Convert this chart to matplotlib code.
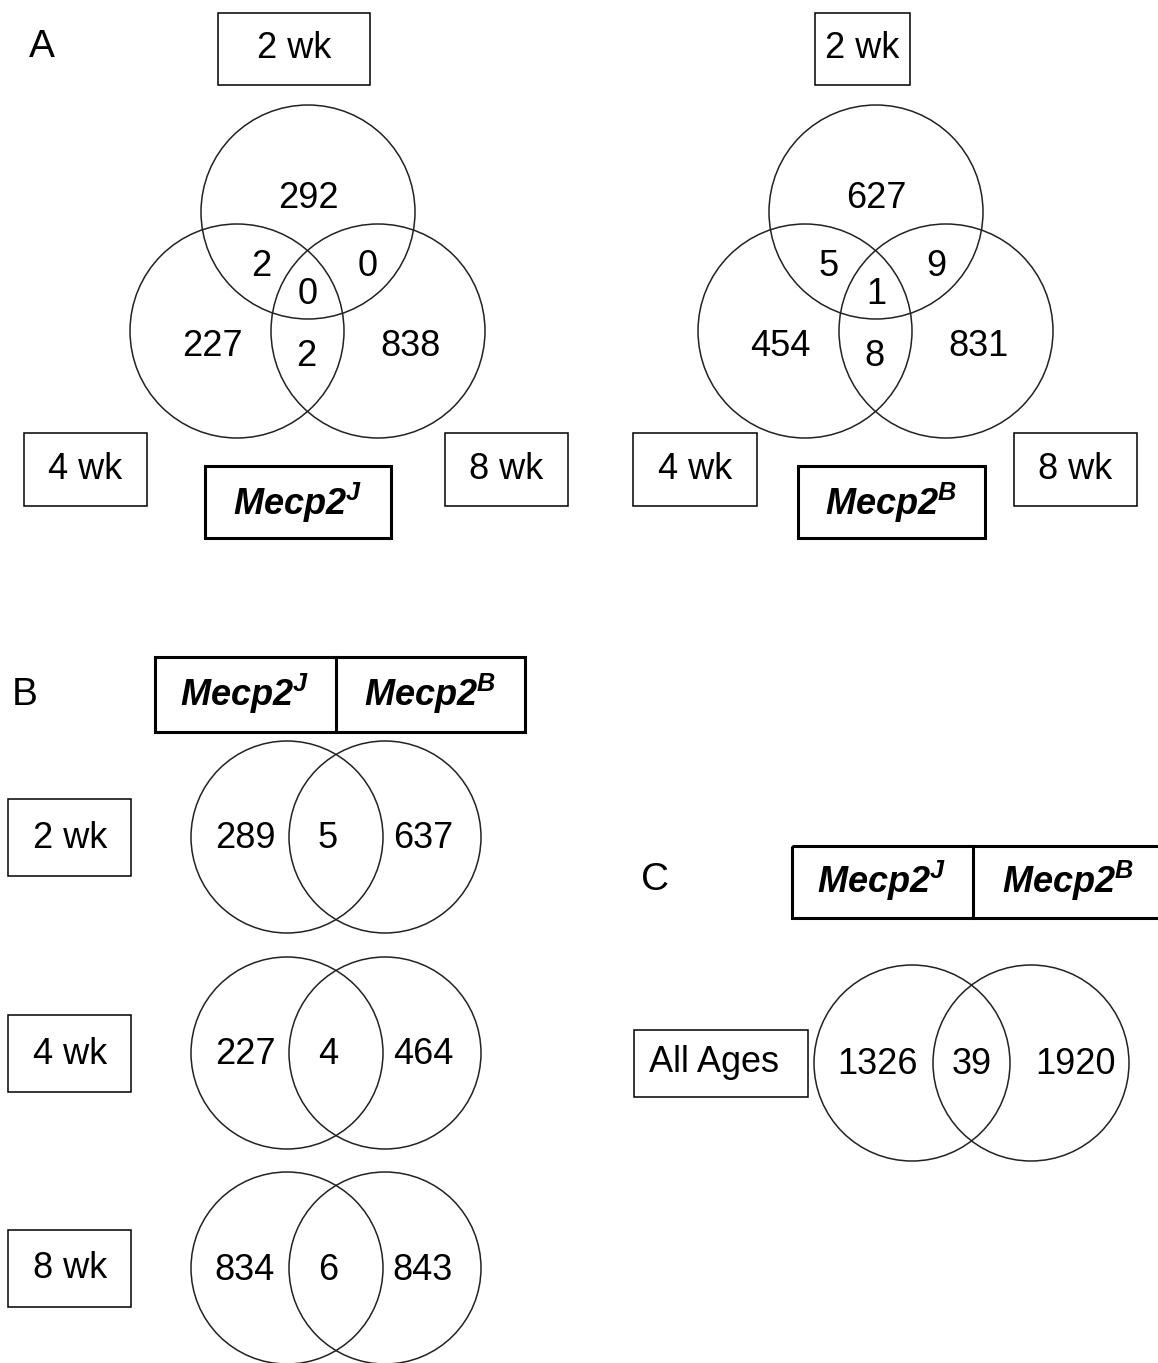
import matplotlib
matplotlib.use("Agg")
from matplotlib import pyplot as plt
from matplotlib.patches import Circle, Rectangle

plt.rcParams['font.family'] = ['Liberation Sans', 'DejaVu Sans']
plt.rcParams['mathtext.fontset'] = 'custom'
plt.rcParams['mathtext.bfit'] = 'Liberation Sans:italic:bold'
plt.rcParams['mathtext.rm'] = 'Liberation Sans'

# panel A: three-way overlaps (2 wk, 2&4, 2&8, all, 4 only, 4&8, 8 only)
venn_J = [292, 2, 0, 0, 227, 2, 838]
venn_B = [627, 5, 9, 1, 454, 8, 831]
# panel B: per age, Mecp2J only / shared / Mecp2B only
ages = ['2 wk', '4 wk', '8 wk']
pair_J = [289, 227, 834]
pair_shared = [5, 4, 6]
pair_B = [637, 464, 843]
# panel C
all_ages = [1326, 39, 1920]

FS = 26
LW = 1.1

fig = plt.figure(figsize=(11.58, 13.63), dpi=100)
ax = fig.add_axes([0, 0, 1, 1])
ax.set_xlim(0, 1158)
ax.set_ylim(1363, 0)
ax.set_aspect('equal')
ax.axis('off')


def circle(x, y, r):
    ax.add_patch(Circle((x, y), r, fill=False, ec='#222222', lw=LW))


def box(x0, y0, x1, y1, lw=LW):
    ax.add_patch(Rectangle((x0, y0), x1 - x0, y1 - y0, fill=False, ec='black', lw=lw))


def label(x, y, s, size=FS):
    # nudge down a little: va='center' sits slightly high for digits
    ax.text(x, y + 2, s, ha='center', va='center', fontsize=size)


def mecp(x, y, sup):
    ax.text(x, y, r'$\mathbfit{Mecp2}^{\mathbfit{%s}}$' % sup, ha='center', va='center',
            fontsize=FS)


# ---- A
ax.text(42, 47, 'A', ha='center', va='center', fontsize=FS + 2)
three_offsets = [(0, -15), (-47, 53), (60, 53), (0, 81), (-96, 133), (-2, 142), (102, 133)]
for cx, counts, sup, boxes in [
        (308, venn_J, 'J', [(218, 13, 370, 85), (24, 433, 147, 506), (445, 433, 568, 506)]),
        (876, venn_B, 'B', [(815, 13, 910, 85), (633, 433, 757, 506), (1014, 433, 1137, 506)])]:
    circle(cx, 212, 107)
    circle(cx - 71, 331, 107)
    circle(cx + 70, 331, 107)
    for (dx, dy), v in zip(three_offsets, counts):
        label(cx + dx, 212 + dy, str(v))
    for (x0, y0, x1, y1), t in zip(boxes, ['2 wk', '4 wk', '8 wk']):
        box(x0, y0, x1, y1)
        label((x0 + x1) / 2, (y0 + y1) / 2 - 2, t)
mbx = [(205, 466, 391, 538), (798, 466, 985, 538)]
for (x0, y0, x1, y1), sup in zip(mbx, ['J', 'B']):
    box(x0, y0, x1, y1, lw=2.2)
    mecp((x0 + x1) / 2, (y0 + y1) / 2 + 1, sup)

# ---- B
ax.text(25, 695, 'B', ha='center', va='center', fontsize=FS + 2)
box(155, 657, 525, 732, lw=2.2)
ax.plot([336, 336], [657, 732], color='black', lw=2.2)
mecp(245, 694, 'J')
mecp(430, 694, 'B')
row_y = [837, 1053, 1268]
for y, a, j, s, b in zip(row_y, ages, pair_J, pair_shared, pair_B):
    box(8, y - 38, 131, y + 39)
    label(70, y - 1, a)
    circle(287, y, 96)
    circle(385, y, 96)
    label(245, y, str(j))
    label(328, y, str(s))
    label(423, y, str(b))

# ---- C
ax.text(655, 880, 'C', ha='center', va='center', fontsize=FS + 2)
box(792, 846, 1170, 918, lw=2.2)
ax.plot([973, 973], [846, 918], color='black', lw=2.2)
mecp(882, 881, 'J')
mecp(1068, 881, 'B')
box(634, 1030, 808, 1097)
label(714, 1060, 'All Ages')
circle(912, 1063, 98)
circle(1031, 1063, 98)
label(877, 1063, str(all_ages[0]))
label(972, 1063, str(all_ages[1]))
label(1075, 1063, str(all_ages[2]))

fig.savefig('out.png', dpi=100, facecolor='white')
